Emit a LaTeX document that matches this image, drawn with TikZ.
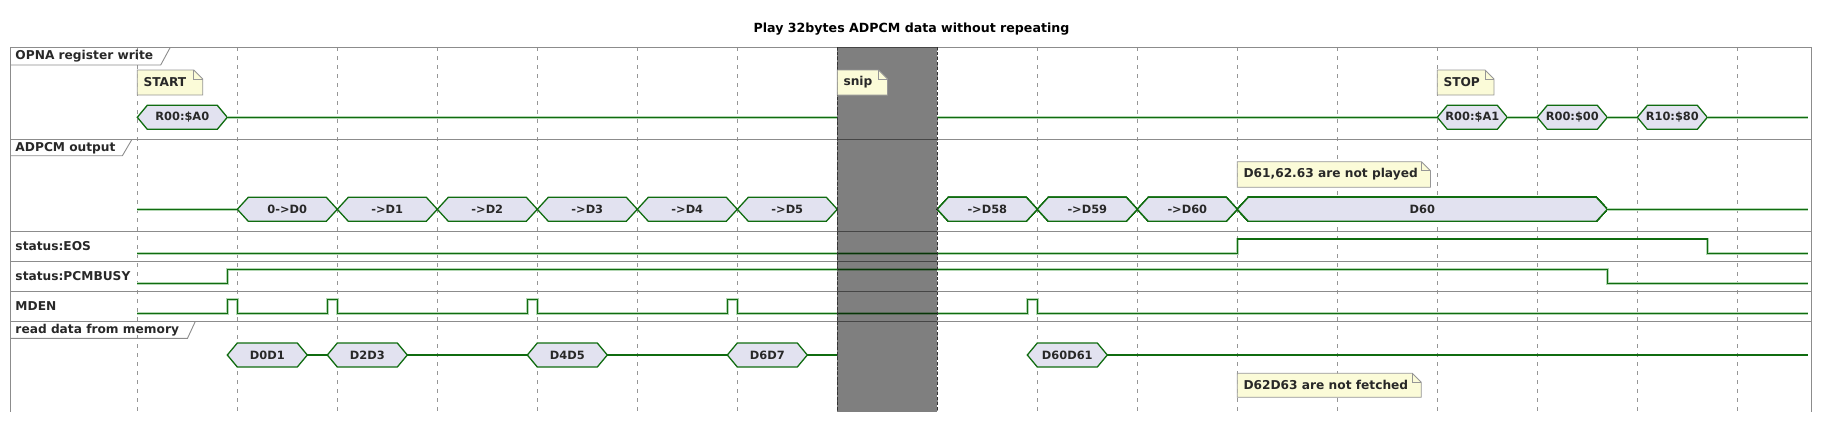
\documentclass[tikz,border=0pt]{standalone}
\usepackage{fontspec}
\setmainfont{DejaVu Sans}
\usepackage{tikz}
\usetikzlibrary{positioning}

\definecolor{sigcol}{RGB}{16,108,16}
\definecolor{sighalo}{RGB}{178,214,178}
\definecolor{hexfill}{RGB}{226,226,240}
\definecolor{notefill}{RGB}{251,251,216}
\definecolor{noteline}{RGB}{150,150,150}
\definecolor{rowline}{RGB}{140,140,140}
\definecolor{gridcol}{RGB}{150,150,150}
\definecolor{txtcol}{RGB}{40,40,40}

\newcommand\dfont{\fontsize{12.2}{15}\selectfont\bfseries}
\newcommand\hfont{\fontsize{11.4}{14}\selectfont\bfseries}

\newcommand\hexbox[6]{%
	\draw[hexa] ({#2},{#4}) -- ({#2+#5},{#4-12}) -- ({#3-#5},{#4-12}) -- ({#3},{#4}) -- ({#3-#5},{#4+12}) -- ({#2+#5},{#4+12}) -- cycle;
	\coordinate (#1-l) at ({#2},{#4});
	\coordinate (#1-r) at ({#3},{#4});
	\node[font=\hfont,text=txtcol,inner sep=0pt] (#1) at ({(#2+#3)/2},{#4}) {#6};}

\newcommand\notebox[6]{%
	\draw[notebox] ({#2},{#3}) -- ({#4-9},{#3}) -- ({#4},{#3+9}) -- ({#4},{#5}) -- ({#2},{#5}) -- cycle;
	\draw[notebox,fill=none] ({#4-9},{#3}) -- ({#4-9},{#3+9}) -- ({#4},{#3+9});
	\node[font=\dfont,text=txtcol,inner sep=0pt,anchor=west] (#1) at ({#2+6},{(#3+#5)/2}) {#6};}

\begin{document}
\begin{tikzpicture}[x=1pt,y=-1pt,
	sigln/.style={draw=sigcol,line width=1.3pt,preaction={draw=sighalo,line width=2.8pt}},
	hexa/.style={draw=sigcol,line width=1.3pt,fill=hexfill},
	rowsep/.style={draw=rowline,line width=0.9pt},
	gridln/.style={draw=gridcol,line width=0.7pt,dash pattern=on 4pt off 5pt},
	lbl/.style={anchor=west,inner sep=0pt,font=\dfont,text=txtcol},
	tag/.style={draw=rowline,line width=0.9pt},
	notebox/.style={draw=noteline,fill=notefill,line width=0.8pt},
	snipbox/.style={fill=black,fill opacity=0.5},
	snipedge/.style={draw=black!80,line width=1.3pt,dash pattern=on 3pt off 2pt}
]
\useasboundingbox (0,0) rectangle (1823,423);
\node[font=\fontsize{12.6}{15}\selectfont\bfseries,text=black] (title) at (911.5,29) {Play 32bytes ADPCM data without repeating};

\coordinate (snipL) at (837.3,0);
\coordinate (snipR) at (937.3,0);
\coordinate (sigend) at (1807.9,0);

\foreach \k in {0,...,16}
	\draw[gridln] ({137.3+100*\k},47.3) -- ({137.3+100*\k},411);
\draw[rowsep] (10.3,411.7) -- (10.3,47.3) -- (1811.8,47.3) -- (1811.8,411.7);
\foreach \y in {139.3,231,261,291.7,321.7}
	\draw[rowsep] (10.3,\y) -- (1811.8,\y);

\node[lbl] (opna) at (15.3,56.5) {OPNA register write};
\draw[tag] (10.3,65) -- (160.7,65) -- (170.3,47.3);
\node[lbl] (adpcm) at (15.3,148) {ADPCM output};
\draw[tag] (10.3,155.7) -- (122.4,155.7) -- (132,139.3);
\node[lbl] (eos) at (15.3,246.5) {status:EOS};
\node[lbl] (busy) at (15.3,276) {status:PCMBUSY};
\node[lbl] (mden) at (15.3,306.5) {MDEN};
\node[lbl] (rdmem) at (15.3,330.3) {read data from memory};
\draw[tag] (10.3,338.3) -- (187.5,338.3) -- (195.2,321.7);

\hexbox{w0}{137.3}{227.3}{117.3}{10}{R00:\$A0}
\hexbox{w1}{1437.3}{1507.3}{117.3}{10}{R00:\$A1}
\hexbox{w2}{1537.3}{1607.3}{117.3}{10}{R00:\$00}
\hexbox{w3}{1637.3}{1707.3}{117.3}{10}{R10:\$80}
\draw[sigln] (w0-r) -- (w0-r -| snipL);
\draw[sigln] (w1-l -| snipR) -- (w1-l);
\draw[sigln] (w1-r) -- (w2-l);
\draw[sigln] (w2-r) -- (w3-l);
\draw[sigln] (w3-r) -- (w3-r -| sigend);

\coordinate (adst) at (137.3,209.3);
\hexbox{a0}{237.3}{337.3}{209.3}{11}{0->D0}
\foreach \i in {1,...,5}
	\hexbox{a\i}{237.3+100*\i}{337.3+100*\i}{209.3}{11}{->D\i}
\foreach \i/\n in {0/58,1/59,2/60}
	\hexbox{a\n}{937.3+100*\i}{1037.3+100*\i}{209.3}{11}{->D\n}
\hexbox{alast}{1237.3}{1607.3}{209.3}{11}{D60}
\draw[sigln] (adst) -- (a0-l);
\draw[sigln] (alast-r) -- (alast-r -| sigend);

\draw[sigln] (137.3,253.3) -- (1237.3,253.3) -- (1237.3,239) -- (1707.3,239) -- (1707.3,253.3) -- (1807.9,253.3);
\draw[sigln] (137.3,283.3) -- (227.3,283.3) -- (227.3,269.3) -- (1607.3,269.3) -- (1607.3,283.3) -- (1807.9,283.3);
\draw[sigln] (137.3,313.3) foreach \g in {237.3,337.3,537.3,737.3,1037.3} { -- ({\g-10},313.3) -- ({\g-10},299.3) -- (\g,299.3) -- (\g,313.3)} -- (1807.9,313.3);

\hexbox{r0}{227.3}{307.3}{355}{10}{D0D1}
\hexbox{r1}{327.3}{407.3}{355}{10}{D2D3}
\hexbox{r2}{527.3}{607.3}{355}{10}{D4D5}
\hexbox{r3}{727.3}{807.3}{355}{10}{D6D7}
\hexbox{r4}{1027.3}{1107.3}{355}{10}{D60D61}
\draw[sigln] (r0-r) -- (r1-l);
\draw[sigln] (r1-r) -- (r2-l);
\draw[sigln] (r2-r) -- (r3-l);
\draw[sigln] (r3-r) -- (r3-r -| snipL);
\draw[sigln] (r4-r) -- (r4-r -| sigend);

\fill[snipbox] (837.3,47.3) rectangle (937.3,411.7);
\draw[snipedge] (837.3,47.3) -- (837.3,411.7);
\draw[snipedge] (937.3,47.3) -- (937.3,411.7);

\notebox{nstart}{137.3}{70}{202.8}{95}{START}
\notebox{nsnip}{837.3}{70}{887.5}{95}{snip}
\notebox{nstop}{1437.3}{70}{1494}{95}{STOP}
\notebox{nplay}{1237.3}{161.7}{1430.4}{187.3}{D61,62.63 are not played}
\notebox{nfetch}{1237.3}{373.3}{1421.3}{397.3}{D62D63 are not fetched}
\end{tikzpicture}
\end{document}
